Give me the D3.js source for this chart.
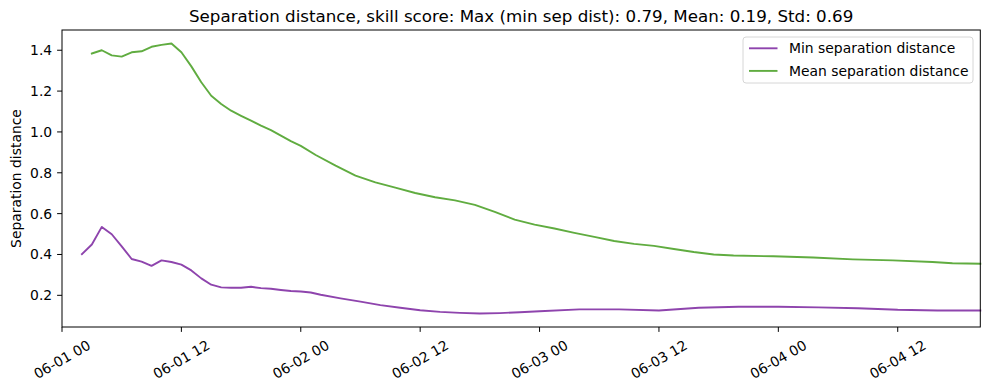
<!DOCTYPE html>
<html>
<head>
<meta charset="utf-8">
<script src="https://cdn.jsdelivr.net/npm/d3@7"></script>
<style>
  html, body { margin: 0; padding: 0; background: #fff; }
  svg { display: block; font-family: 'DejaVu Sans', sans-serif; }
</style>
</head>
<body>
<div id="chart"></div>
<script>
// axis start and tick step (hours from 06-01 00:00)
const xStart = '2023-06-01T00:00:00Z';
const tickStepHours = 12;
const yTicks = [0.2, 0.4, 0.6, 0.8, 1.0, 1.2, 1.4];

// Min separation distance
const minHours = [2, 3, 4, 5, 6, 7, 8, 9, 10, 11, 12, 13, 14, 15, 16, 17, 18, 19, 20, 21, 22, 23, 24, 25,
  26, 28, 30, 32, 34, 36, 38, 40, 42, 44, 46, 48, 52, 56, 60, 64, 68, 72, 76, 80, 84, 88, 92.3];
const minValues = [0.402, 0.449, 0.535, 0.499, 0.440, 0.378, 0.365, 0.344, 0.371, 0.363, 0.350, 0.322,
  0.283, 0.252, 0.239, 0.237, 0.237, 0.242, 0.235, 0.232, 0.226, 0.221, 0.219, 0.214,
  0.203, 0.185, 0.169, 0.152, 0.139, 0.127, 0.119, 0.114, 0.111, 0.113, 0.117, 0.122,
  0.131, 0.131, 0.126, 0.139, 0.144, 0.144, 0.141, 0.137, 0.129, 0.126, 0.126];

// Mean separation distance
const meanHours = [3, 4, 5, 6, 7, 8, 9, 10, 11, 12, 13, 14, 15, 16, 17, 18, 19, 20, 21, 22, 23, 24,
  25.5, 27.5, 29.5, 31.5, 33.5, 35.5, 37.5, 39.5, 41.5, 43.5, 45.5, 47.5, 49.5, 51.5, 53.5, 55.5,
  57.5, 59.5, 61.5, 63.5, 65.5, 67.5, 71.5, 75.5, 79.5, 83.5, 87.5, 89.5, 92.3];
const meanValues = [1.384, 1.400, 1.375, 1.369, 1.390, 1.395, 1.417, 1.426, 1.433, 1.390, 1.321, 1.243,
  1.177, 1.137, 1.104, 1.079, 1.055, 1.031, 1.009, 0.982, 0.955, 0.932,
  0.887, 0.835, 0.786, 0.753, 0.727, 0.701, 0.680, 0.665, 0.643, 0.609, 0.571, 0.546, 0.527, 0.506,
  0.486, 0.466, 0.452, 0.442, 0.427, 0.412, 0.400, 0.395, 0.391, 0.385, 0.376, 0.371, 0.363, 0.357, 0.355];

const seriesNames = ['Min separation distance', 'Mean separation distance'];
const seriesColors = ['#8e44ad', '#60ac40'];
const titleText = 'Separation distance, skill score: Max (min sep dist): 0.79, Mean: 0.19, Std: 0.69';

const width = 989, height = 390;
const plotLeft = 62, plotRight = 980.3, plotTop = 30, plotBottom = 327;
const fs = 13.9;

const t0 = new Date(xStart);
const toDate = h => new Date(t0.getTime() + h * 3600e3);

const series = [
  minHours.map((h, i) => ({ t: toDate(h), v: minValues[i] })),
  meanHours.map((h, i) => ({ t: toDate(h), v: meanValues[i] }))
];

const allV = minValues.concat(meanValues);
const [vmin, vmax] = d3.extent(allV);
const pad = (vmax - vmin) * 0.05;

const tEnd = d3.max(series.flat(), d => d.t);
const x = d3.scaleUtc().domain([t0, tEnd]).range([plotLeft, plotRight]);
const y = d3.scaleLinear().domain([vmin - pad, vmax + pad]).range([plotBottom, plotTop]);

const svg = d3.select('#chart').append('svg')
  .attr('width', width).attr('height', height);

// lines
const line = d3.line().x(d => x(d.t)).y(d => y(d.v));
series.forEach((s, i) => {
  svg.append('path')
    .attr('d', line(s))
    .attr('fill', 'none')
    .attr('stroke', seriesColors[i])
    .attr('stroke-width', 1.9)
    .attr('stroke-linejoin', 'round')
    .attr('stroke-linecap', 'square');
});

// frame
svg.append('rect')
  .attr('x', plotLeft).attr('y', plotTop)
  .attr('width', plotRight - plotLeft).attr('height', plotBottom - plotTop)
  .attr('fill', 'none').attr('stroke', '#000').attr('stroke-width', 1);

// y ticks
const tickLen = 4.9;
yTicks.forEach(v => {
  svg.append('line')
    .attr('x1', plotLeft - tickLen).attr('x2', plotLeft)
    .attr('y1', y(v)).attr('y2', y(v))
    .attr('stroke', '#000').attr('stroke-width', 1);
  svg.append('text')
    .attr('x', plotLeft - tickLen - 4.9).attr('y', y(v))
    .attr('text-anchor', 'end')
    .attr('dominant-baseline', 'central')
    .attr('font-size', fs + 'px')
    .attr('fill', '#000')
    .text(v.toFixed(1));
});

// x ticks
const xTicks = d3.utcHour.every(tickStepHours).range(t0, tEnd);
const fmt = d3.utcFormat('%m-%d %H');
const sin = Math.sin(Math.PI / 6), cos = Math.cos(Math.PI / 6);
xTicks.forEach(t => {
  const px = x(t);
  svg.append('line')
    .attr('x1', px).attr('x2', px)
    .attr('y1', plotBottom).attr('y2', plotBottom + tickLen)
    .attr('stroke', '#000').attr('stroke-width', 1);
  const txt = svg.append('text')
    .attr('text-anchor', 'middle')
    .attr('dominant-baseline', 'central')
    .attr('font-size', fs + 'px')
    .attr('fill', '#000')
    .text(fmt(t));
  const w = txt.node().getComputedTextLength();
  const h = fs * 1.16;
  const H = w * sin + h * cos;
  txt.attr('transform', `translate(${px},${plotBottom + tickLen + 4.9 + H / 2}) rotate(-30)`);
});

// y label
svg.append('text')
  .attr('transform', `translate(16,${(plotTop + plotBottom) / 2}) rotate(-90)`)
  .attr('text-anchor', 'middle')
  .attr('dominant-baseline', 'central')
  .attr('font-size', fs + 'px')
  .attr('fill', '#000')
  .text('Separation distance');

// title
svg.append('text')
  .attr('x', (plotLeft + plotRight) / 2).attr('y', 21.5)
  .attr('text-anchor', 'middle')
  .attr('font-size', '16.7px')
  .attr('fill', '#000')
  .text(titleText);

// legend
const lg = svg.append('g');
lg.append('rect')
  .attr('x', 743).attr('y', 37)
  .attr('width', 230).attr('height', 46)
  .attr('rx', 3)
  .attr('fill', '#fff').attr('fill-opacity', 0.8)
  .attr('stroke', '#d6d6d6').attr('stroke-width', 1);
seriesNames.forEach((name, i) => {
  const cy = 48.3 + i * 22.6;
  lg.append('line')
    .attr('x1', 749).attr('x2', 777.5)
    .attr('y1', cy).attr('y2', cy)
    .attr('stroke', seriesColors[i]).attr('stroke-width', 1.9);
  lg.append('text')
    .attr('x', 789).attr('y', cy)
    .attr('dominant-baseline', 'central')
    .attr('font-size', fs + 'px')
    .attr('fill', '#000')
    .text(name);
});
</script>
</body>
</html>
